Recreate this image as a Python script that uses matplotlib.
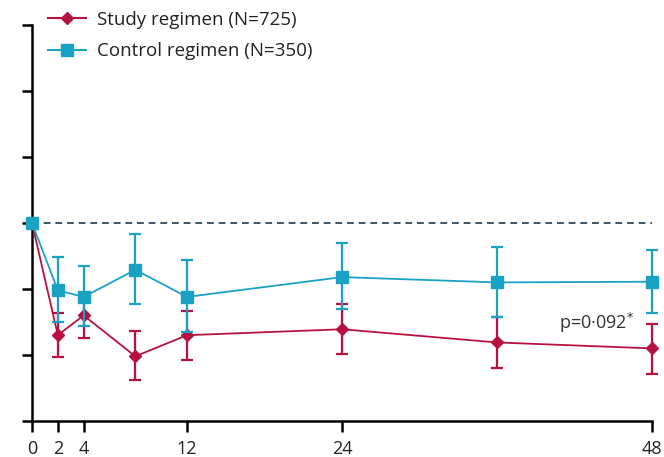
import matplotlib
matplotlib.use("Agg")
import matplotlib.pyplot as plt
from matplotlib.lines import Line2D

weeks = [0, 2, 4, 8, 12, 24, 36, 48]
study_mean = [3.0, 1.30, 1.60, 0.98, 1.30, 1.39, 1.19, 1.10]
study_low = [3.0, 0.97, 1.26, 0.62, 0.92, 1.02, 0.80, 0.71]
study_high = [3.0, 1.64, 1.94, 1.36, 1.67, 1.77, 1.58, 1.47]
control_mean = [3.0, 1.98, 1.88, 2.29, 1.88, 2.18, 2.10, 2.11]
control_low = [3.0, 1.50, 1.44, 1.77, 1.35, 1.70, 1.58, 1.64]
control_high = [3.0, 2.48, 2.35, 2.83, 2.44, 2.70, 2.64, 2.59]
xticks = [0, 2, 4, 12, 24, 48]
yticks = [0, 1, 2, 3, 4, 5, 6]
baseline = 3.0
labels = ["Study regimen (N=725)", "Control regimen (N=350)"]

red = "#B7123F"
blue = "#1AA2C4"

plt.rcParams['font.family'] = ['Open Sans', 'DejaVu Sans']

fig = plt.figure(figsize=(6.64, 4.57), dpi=100)
ax = fig.add_axes([32/664, 36/457, 620/664, 399.3/457])

ax.plot([0, 48], [baseline, baseline], ls=(0, (3.5, 2.5)), color="#3f5566", lw=1.4, zorder=1)

def err(m, lo, hi):
    return [[a - b for a, b in zip(m, lo)], [c - a for a, c in zip(m, hi)]]

ax.errorbar(weeks, study_mean, yerr=err(study_mean, study_low, study_high), color=red,
            marker="D", markersize=6.5, lw=1.3, elinewidth=1.6, capsize=4.5, capthick=1.6,
            clip_on=False, zorder=3)
ax.errorbar(weeks, control_mean, yerr=err(control_mean, control_low, control_high), color=blue,
            marker="s", markersize=9, lw=1.3, elinewidth=1.6, capsize=4.5, capthick=1.6,
            clip_on=False, zorder=4)

ax.text(46.6, 1.49, "p=0·092$^{*}$", ha="right", va="center", fontsize=13, color="#333333")

ax.set_xlim(0, 48)
ax.set_ylim(0, 6.05)
ax.set_xticks(xticks)
ax.set_yticks(yticks)
ax.set_yticklabels([])
ax.set_xticklabels([str(t) for t in xticks], fontsize=13, color="#222222")
ax.tick_params(axis="x", direction="out", length=8, width=1.8, pad=6)
ax.tick_params(axis="y", direction="out", length=7, width=1.8)
for s in ["top", "right"]:
    ax.spines[s].set_visible(False)
for s in ["left", "bottom"]:
    ax.spines[s].set_linewidth(1.8)
ax.spines["left"].set_bounds(0, 6)

handles = [Line2D([], [], color=red, marker="D", markersize=6.5, lw=1.5),
           Line2D([], [], color=blue, marker="s", markersize=9, lw=1.5)]
fig.legend(handles, labels, loc="upper left", bbox_to_anchor=(48/664, 1 - 11/457), frameon=False,
           fontsize=13.5, handlelength=2.0, handletextpad=0.6, labelspacing=0.72,
           borderaxespad=0, borderpad=0, labelcolor="#222222")

fig.savefig("out.png", dpi=100)
